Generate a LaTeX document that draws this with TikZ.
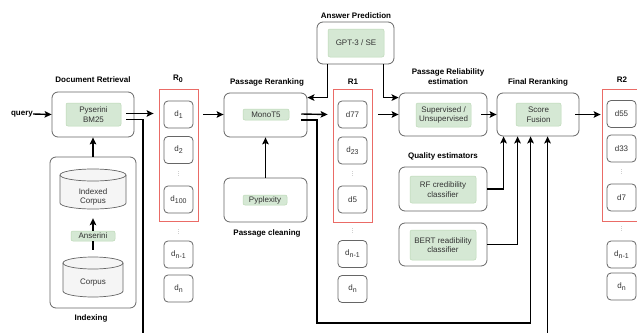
\documentclass[tikz,border=0pt]{standalone}
\usepackage{fontspec}
\setmainfont{Liberation Sans}
\usetikzlibrary{calc,arrows.meta}
\definecolor{gfill}{HTML}{D5E8D4}
\definecolor{gline}{HTML}{BCD9B6}
\definecolor{rline}{HTML}{EA6B66}
\definecolor{bline}{HTML}{666666}
\definecolor{cfill}{HTML}{F5F5F5}
\newcommand\sbs[1]{\raisebox{-2pt}{\fontsize{7}{7}\selectfont #1}}
\newcommand\vdt{\vbox{\baselineskip=2pt\lineskiplimit=0pt\hbox{.}\hbox{.}\hbox{.}}}
\begin{document}
\begin{tikzpicture}[x=1pt,y=-1pt,
  font=\fontsize{8}{9.5}\selectfont,
  sz/.style 2 args={minimum width=#1pt,minimum height=#2pt},
  box/.style={draw=bline,line width=0.8pt,rounded corners=6pt,fill=white,inner sep=0pt},
  gn/.style={draw=gline,line width=0.5pt,fill=gfill,rounded corners=2pt,align=center,inner sep=0pt,text=black!80},
  rbox/.style={draw=rline,line width=0.8pt,inner sep=0pt},
  dbox/.style={draw=bline,line width=0.8pt,rounded corners=4pt,fill=white,minimum width=29pt,minimum height=27pt,inner sep=0pt,text=black!80},
  vd/.style={text=gray,font=\fontsize{6}{6}\selectfont,inner sep=0pt},
  lbl/.style={font=\fontsize{8}{9.5}\selectfont\bfseries,align=center,inner sep=0pt},
  ln/.style={line width=1.4pt,black},
  arr/.style={ln,-{Stealth[length=7pt,width=6.5pt,inset=1.5pt]}},
  ctext/.style={inner sep=0pt,align=center,text=black!80}
]
\clip (0,0) rectangle (637,332);
\useasboundingbox (0,0) rectangle (637,332);

% ---------- Document retrieval ----------
\node[lbl] (qry) at (22,114) {query};
\node[box,sz={82}{45}] (dr) at (93,114.5) {};
\node[gn,sz={55}{23}] (pys) at (93.5,114.5) {Pyserini\\BM25};
\node[lbl] (drl) at (93,80) {Document Retrieval};

% ---------- Indexing ----------
\node[box,sz={86}{151}] (idx) at (93,232.5) {};
\node[lbl] (idxl) at (91,318) {Indexing};
% Indexed corpus cylinder (60-126, 169-209)
\fill[cfill] (60,175) -- (60,203) arc[start angle=180,end angle=360,x radius=33pt,y radius=6pt] -- (126,175) arc[start angle=0,end angle=180,x radius=33pt,y radius=6pt] -- cycle;
\draw[bline,line width=0.7pt] (60,175) -- (60,203) arc[start angle=180,end angle=360,x radius=33pt,y radius=6pt] -- (126,175);
\draw[bline,line width=0.7pt] (93,175) ellipse[x radius=33pt,y radius=6pt];
\node[ctext,sz={66}{40}] (ic) at (93,189) {};
\node[ctext] (ict) at (93,197) {Indexed\\Corpus};
% Corpus cylinder (63-123, 257-297)
\fill[cfill] (63,263) -- (63,291) arc[start angle=180,end angle=360,x radius=30pt,y radius=6pt] -- (123,263) arc[start angle=0,end angle=180,x radius=30pt,y radius=6pt] -- cycle;
\draw[bline,line width=0.7pt] (63,263) -- (63,291) arc[start angle=180,end angle=360,x radius=30pt,y radius=6pt] -- (123,263);
\draw[bline,line width=0.7pt] (93,263) ellipse[x radius=30pt,y radius=6pt];
\node[ctext,sz={60}{40}] (corp) at (93,277) {};
\node[ctext] (corpt) at (93,283) {Corpus};
\node[gn,sz={44}{10}] (ans) at (93,236) {Anserini};

% ---------- R0 ----------
\node[rbox,sz={39}{132}] (r0) at (178.5,155) {};
\node[lbl] (r0l) at (178,79) {R\sbs{0}};
\node[dbox] (a1) at (178.5,114.5) {d\sbs{1}};
\node[dbox] (a2) at (178.5,150) {d\sbs{2}};
\node[vd] (a3) at (178.5,174) {\vdt};
\node[dbox] (a4) at (178.5,199.5) {d\sbs{100}};
\node[vd] (a5) at (178.5,232) {\vdt};
\node[dbox] (a6) at (178.5,254.5) {d\sbs{n-1}};
\node[dbox] (a7) at (178.5,288.5) {d\sbs{n}};

% ---------- Passage reranking ----------
\node[lbl] (prl) at (267,82) {Passage Reranking};
\node[box,sz={83}{44}] (pr) at (265.5,115) {};
\node[gn,sz={46}{11}] (mono) at (266,114.5) {MonoT5};
\node[box,sz={83}{44}] (pc) at (265.5,200) {};
\node[gn,sz={44}{10}] (ppx) at (265,200) {Pyplexity};
\node[lbl] (pcl) at (267,233) {Passage cleaning};

% ---------- Answer prediction ----------
\node[lbl] (apl) at (356,16) {Answer Prediction};
\node[box,sz={77}{42}] (ap) at (355.5,43) {};
\node[gn,sz={56}{28}] (gpt) at (356,43) {GPT-3 / SE};

% ---------- R1 ----------
\node[rbox,sz={39}{133}] (r1) at (352.5,155.5) {};
\node[lbl] (r1l) at (353,82) {R1};
\node[dbox] (b1) at (352.5,114.5) {d77};
\node[dbox] (b2) at (352.5,150.5) {d\sbs{23}};
\node[vd] (b3) at (352.5,174) {\vdt};
\node[dbox] (b4) at (352.5,199.5) {d5};
\node[vd] (b5) at (352.5,231) {\vdt};
\node[dbox] (b6) at (352.5,254) {d\sbs{n-1}};
\node[dbox] (b7) at (352.5,289) {d\sbs{n}};

% ---------- Passage reliability ----------
\node[lbl] (prel) at (448,76.5) {Passage Reliability\\estimation};
\node[box,sz={88}{43}] (pre) at (443,114.5) {};
\node[gn,sz={55}{24}] (sup) at (443.5,115) {Supervised /\\Unsupervised};
\node[lbl] (qel) at (443,156) {Quality estimators};
\node[box,sz={88}{44}] (rfb) at (443,189) {};
\node[gn,sz={66}{27}] (rf) at (443,189.5) {RF credibility\\classifier};
\node[box,sz={88}{43}] (bertb) at (443,244.5) {};
\node[gn,sz={66}{30}] (bert) at (443,245) {BERT readibility\\classifier};

% ---------- Final reranking ----------
\node[lbl] (frl) at (538,82) {Final Reranking};
\node[box,sz={82}{43}] (fr) at (538,114.5) {};
\node[gn,sz={45}{23}] (sf) at (538.5,114.5) {Score\\Fusion};

% ---------- R2 ----------
\node[rbox,sz={39}{132}] (r2) at (621.5,155) {};
\node[lbl] (r2l) at (622,80) {R2};
\node[dbox] (c1) at (621.5,114) {d55};
\node[dbox] (c2) at (621.5,148.5) {d33};
\node[vd] (c3) at (621.5,172) {\vdt};
\node[dbox] (c4) at (621.5,197.5) {d7};
\node[vd] (c5) at (621.5,229) {\vdt};
\node[dbox] (c6) at (621.5,254.5) {d\sbs{n-1}};
\node[dbox] (c7) at (621.5,286.5) {d\sbs{n}};

% ---------- connectors ----------
\coordinate (bot1) at (143,345);
\coordinate (bot2) at (317,323);
\draw[arr] (qry.east) -- (dr.west);
\draw[arr] (idx.north) -- (dr.south);
\draw[ln,shorten <=7pt] (corp.north) -- (ans.south);
\draw[arr,shorten >=9pt] (ans.north) -- (ic.south);
\draw[arr] ($(pys.east)+(5,-1)$) -- ($(a1 -| r0.west)+(-5,-1)$);
\draw[arr] ($(pys.east)+(5,5)$) -| (bot1) -| ($(fr.south west)+(51,0)$);
\draw[arr] ($(a1 -| r0.east)+(5,0)$) -- (a1 -| pr.west);
\draw[arr] (pc.north) -- (pr.south);
\draw[arr] ($(ap.south west)+(11,0)$) |- ($(pr.north east)+(0,5)$);
\draw[arr] ($(ap.south east)+(-11,0)$) |- ($(pre.north west)+(0,5)$);
\draw[arr] ($(mono.east)+(12,-0.5)$) -- ($(b1 -| r1.west)+(-5,0)$);
\draw[arr] ($(mono.east)+(12,5.5)$) -| (bot2) -| ($(fr.south west)+(34,0)$);
\draw[arr] ($(b1 -| r1.east)+(6,0)$) -- (b1 -| pre.west);
\draw[arr] ($(b1 -| sup.east)+(10,0)$) -- (b1 -| fr.west);
\draw[arr] ($(b1 -| sf.east)+(14,0)$) -- ($(b1 -| r2.west)+(-1,0)$);
\draw[arr] (rfb.east) -| ($(fr.south west)+(7,0)$);
\draw[arr] (bertb.east) -| ($(fr.south west)+(21,0)$);
\end{tikzpicture}
\end{document}
